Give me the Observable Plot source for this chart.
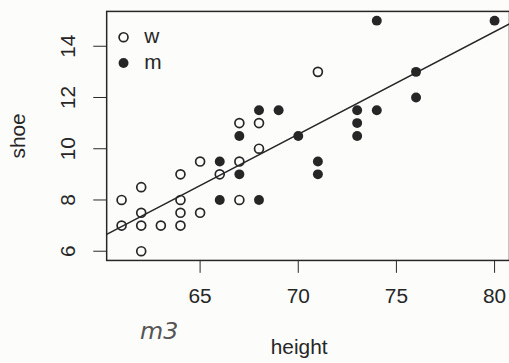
<!DOCTYPE html>
<html><head><meta charset="utf-8">
<script src="https://cdn.jsdelivr.net/npm/d3@7"></script>
<script src="https://cdn.jsdelivr.net/npm/@observablehq/plot@0.6"></script>
<style>
html,body{margin:0;padding:0;background:#fcfcfb;overflow:hidden;}
</style></head><body><div id="chart"></div>
<script>
const womenHeight = [61,61,62,62,62,62,63,64,64,64,64,65,65,66,67,67,67,68,68,71];
const womenShoe   = [8,7,8.5,7.5,7,6,7,9,8,7.5,7,9.5,7.5,9,9.5,8,11,11,10,13];
const menHeight   = [66,66,67,67,68,68,69,70,71,71,73,73,73,74,74,76,76,80];
const menShoe     = [9.5,8,9,10.5,8,11.5,11.5,10.5,9.5,9,11.5,11,10.5,11.5,15,13,12,15];
const xTicks = [65,70,75,80];
const yTicks = [6,8,10,12,14];
const legendLabels = ["w","m"];
const xLabel = "height", yLabel = "shoe";
const annotation = ["m3"];

const women = womenHeight.map((h,i)=>({height:h, shoe:womenShoe[i]}));
const men = menHeight.map((h,i)=>({height:h, shoe:menShoe[i]}));
const all = women.concat(men);

// R-style 4% padded domains
function pad(ext){const r=ext[1]-ext[0];return [ext[0]-0.04*r, ext[1]+0.04*r];}
const xDomain = pad(d3.extent(all,d=>d.height));
const yDomain = pad(d3.extent(all,d=>d.shoe));

// least squares fit shoe ~ height
const mx = d3.mean(all,d=>d.height), my = d3.mean(all,d=>d.shoe);
const slope = d3.sum(all,d=>(d.height-mx)*(d.shoe-my))/d3.sum(all,d=>(d.height-mx)**2);
const intercept = my - slope*mx;
const fit = xDomain.map(x=>({height:x, shoe:intercept+slope*x}));

const ink = "#262626";
const font = "'Liberation Sans', Arial, Helvetica, sans-serif";

const chart = Plot.plot({
  width: 513, height: 363,
  marginLeft: 107, marginRight: 0, marginTop: 11, marginBottom: 101,
  style: {fontFamily: font, fontSize: "21px", color: ink, background: "transparent"},
  x: {domain: xDomain, ticks: xTicks, tickSize: 13, tickPadding: 15, label: null},
  y: {domain: yDomain, ticks: yTicks, tickSize: 13, tickFormat: () => "", label: null},
  marks: [
    Plot.frame({stroke: ink, strokeWidth: 1.5}),
    Plot.line(fit, {x:"height", y:"shoe", stroke: ink, strokeWidth: 1.5}),
    Plot.dot(women, {x:"height", y:"shoe", r:4.5, stroke: ink, strokeWidth: 1.7, fill: "none"}),
    Plot.dot(men, {x:"height", y:"shoe", r:5, fill: ink, stroke: "none"}),
    Plot.text(yTicks, {y: d=>d, text: d=>String(d), frameAnchor: "left", dx: -39, rotate: -90, fontSize: 21, fill: ink, lineAnchor: "middle", textAnchor: "middle"}),
    Plot.text([xLabel], {frameAnchor: "bottom", dx: -9, dy: 88, fontSize: 21, fill: ink, lineAnchor: "middle"}),
    Plot.text([yLabel], {frameAnchor: "left", dx: -89, rotate: -90, fontSize: 21, fill: ink, lineAnchor: "middle", textAnchor: "middle"}),
    Plot.dot([legendLabels[0]], {frameAnchor: "top-left", dx: 17, dy: 26, r: 4.5, stroke: ink, strokeWidth: 1.7, fill: "none"}),
    Plot.dot([legendLabels[1]], {frameAnchor: "top-left", dx: 17, dy: 52, r: 5, fill: ink}),
    Plot.text([legendLabels[0]], {text: d=>d, frameAnchor: "top-left", dx: 38, dy: 25, textAnchor: "start", lineAnchor: "middle", fontSize: 21, fill: ink}),
    Plot.text([legendLabels[1]], {text: d=>d, frameAnchor: "top-left", dx: 38, dy: 51, textAnchor: "start", lineAnchor: "middle", fontSize: 21, fill: ink}),
    Plot.text(annotation, {text: d=>d, frameAnchor: "bottom-left", dx: 53, dy: 71, textAnchor: "middle", lineAnchor: "middle", fontSize: 24, fill: "#555", fontFamily: "'DejaVu Sans', sans-serif", fontStyle: "italic"})
  ]
});
document.getElementById("chart").appendChild(chart);
</script></body></html>
